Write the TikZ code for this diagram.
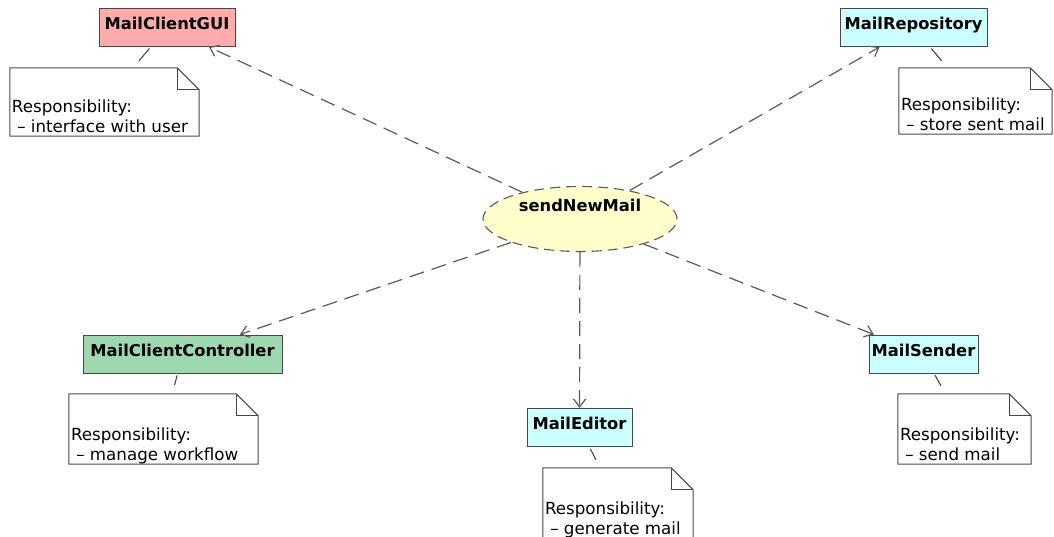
\documentclass[tikz,border=0pt]{standalone}
\usepackage{fontspec}
\setmainfont{DejaVu Sans}
\usetikzlibrary{positioning,arrows.meta,shapes.geometric}

\definecolor{guired}{RGB}{255,172,172}
\definecolor{ctrlgreen}{RGB}{158,216,176}
\definecolor{entcyan}{RGB}{204,255,255}
\definecolor{ucyellow}{RGB}{255,255,204}
\definecolor{boxline}{RGB}{70,70,70}
\definecolor{depline}{RGB}{90,90,90}

\tikzset{
  cls/.style={draw=boxline, line width=1pt, inner sep=0pt, minimum height=38pt,
    font=\fontsize{16.3}{20}\selectfont\bfseries, text height=12pt, text depth=8pt},
  uc/.style={ellipse, draw=depline, line width=1.1pt, dash pattern=on 10pt off 6pt,
    fill=ucyellow, minimum width=194pt, minimum height=65pt, inner sep=0pt},
  uclabel/.style={font=\fontsize{16.3}{20}\selectfont\bfseries, inner sep=0pt},
  note/.style={inner sep=0pt, draw=none},
  notel/.style={draw=boxline, line width=1pt},
  notetext/.style={font=\fontsize{16.7}{20}\selectfont, align=left, inner sep=0pt, anchor=south west},
  dep/.style={draw=depline, line width=1.2pt, dash pattern=on 15pt off 8pt,
    -{Straight Barb[length=8pt,width=12pt]}},
  conn/.style={draw=boxline, line width=1.1pt, shorten <=2pt, shorten >=9pt}
}

%% note outline with folded corner
\newcommand{\notefold}[1]{%
  \draw[notel] (#1.north west) -- ([xshift=-22pt]#1.north east)
    -- ([yshift=-22pt]#1.north east) -- (#1.south east) -- (#1.south west) -- cycle;
  \draw[notel] ([xshift=-22pt]#1.north east) |- ([yshift=-22pt]#1.north east);}

\begin{document}
\begin{tikzpicture}[x=1pt,y=-1pt]

\useasboundingbox (0,0) rectangle (1054,536);

%%% use case
\node[uc] (send) at (580,219) {};
\node[uclabel] (sendlbl) at ([yshift=14pt]send.center) {sendNewMail};

%%% classes
\node[cls, fill=guired, minimum width=136pt] (gui) at (167,27.5) {MailClientGUI};
\node[cls, fill=entcyan, minimum width=147pt] (repo) at (913.5,27.5) {MailRepository};
\node[cls, fill=ctrlgreen, minimum width=199pt] (ctrl) at (182.5,354) {MailClientController};
\node[cls, fill=entcyan, minimum width=105pt] (editor) at (579.5,427.5) {MailEditor};
\node[cls, fill=entcyan, minimum width=109pt] (sender) at (923.5,354) {MailSender};

%%% notes
\node[note, minimum width=189pt, minimum height=68pt] (n1) at (104.5,102) {};
\node[note, minimum width=153pt, minimum height=66pt] (n2) at (975.5,101) {};
\node[note, minimum width=189pt, minimum height=70pt] (n3) at (163.5,429) {};
\node[note, minimum width=150pt, minimum height=70pt] (n4) at (618,503) {};
\node[note, minimum width=133pt, minimum height=70pt] (n5) at (964.5,429) {};

\notefold{n1}
\notefold{n2}
\notefold{n3}
\notefold{n4}
\notefold{n5}

\node[notetext] (t1) at ([shift={(2pt,-2pt)}]n1.south west) {Responsibility:\\\ – interface with user\strut};
\node[notetext] (t2) at ([shift={(2pt,-2pt)}]n2.south west) {Responsibility:\\\ – store sent mail\strut};
\node[notetext] (t3) at ([shift={(2pt,-2pt)}]n3.south west) {Responsibility:\\\ – manage workflow\strut};
\node[notetext] (t4) at ([shift={(2pt,-2pt)}]n4.south west) {Responsibility:\\\ – generate mail\strut};
\node[notetext] (t5) at ([shift={(2pt,-2pt)}]n5.south west) {Responsibility:\\\ – send mail\strut};

%% class to note
\draw[conn] (gui) -- (n1);
\draw[conn] (repo) -- (n2);
\draw[conn] (ctrl) -- (n3);
\draw[conn] (editor) -- (n4);
\draw[conn] (sender) -- (n5);

%% dependencies
\draw[dep] (send) -- (gui);
\draw[dep] (send) -- (repo);
\draw[dep] (send) -- (ctrl);
\draw[dep] (send) -- (editor);
\draw[dep] (send) -- (sender);

\end{tikzpicture}
\end{document}
